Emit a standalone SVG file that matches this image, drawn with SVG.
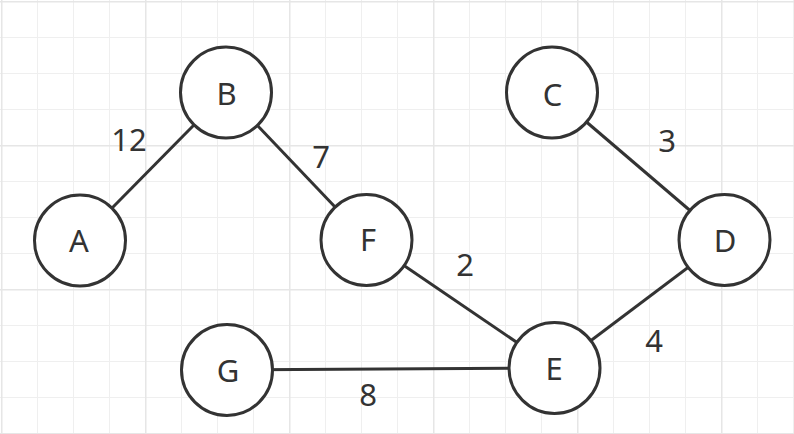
<svg xmlns="http://www.w3.org/2000/svg" width="794" height="434" viewBox="0 0 794 434">
<defs>
<pattern id="minor" x="1" y="1" width="36" height="36" patternUnits="userSpaceOnUse">
<path d="M0.5 0V36M0 0.5H36" fill="none" stroke="#efefef" stroke-width="1"/>
</pattern>
<pattern id="major" x="1" y="1" width="144" height="144" patternUnits="userSpaceOnUse">
<path d="M0.75 0V144M0 0.75H144" fill="none" stroke="#e6e6e6" stroke-width="1.5"/>
</pattern>
</defs>
<style>
.node circle{fill:#ffffff;stroke:#333333;stroke-width:3}
.node text,.label{font-family:"Noto Sans","Open Sans","DejaVu Sans",sans-serif;font-size:31px;fill:#333333;text-anchor:middle}
.edges line{stroke:#333333;stroke-width:3}
</style>
<rect width="794" height="434" fill="#ffffff"/>
<rect width="794" height="434" fill="url(#minor)"/>
<rect width="794" height="434" fill="url(#major)"/>
<g id="edges" class="edges">
<line x1="80" y1="240.5" x2="226" y2="92.5"/>
<line x1="226" y1="92.5" x2="366.5" y2="240"/>
<line x1="552" y1="92.5" x2="724.5" y2="240"/>
<line x1="366.5" y1="240" x2="554.5" y2="368"/>
<line x1="724.5" y1="240" x2="554.5" y2="368"/>
<line x1="227" y1="370" x2="554.5" y2="368"/>
</g>
<g id="edge-labels">
<text class="label" x="129" y="151">12</text>
<text class="label" x="321" y="168">7</text>
<text class="label" x="667" y="151.5">3</text>
<text class="label" x="465" y="276">2</text>
<text class="label" x="654" y="351.5">4</text>
<text class="label" x="368" y="406">8</text>
</g>
<g id="node-A" class="node"><circle cx="80" cy="240.5" r="45.5"/><text x="79" y="251.5">A</text></g>
<g id="node-B" class="node"><circle cx="226" cy="92.5" r="45.5"/><text x="226.5" y="105">B</text></g>
<g id="node-C" class="node"><circle cx="552" cy="92.5" r="45.5"/><text x="552.5" y="105.5">C</text></g>
<g id="node-D" class="node"><circle cx="724.5" cy="240" r="45.5"/><text x="725" y="251.5">D</text></g>
<g id="node-E" class="node"><circle cx="554.5" cy="368" r="45.5"/><text x="554" y="379.5">E</text></g>
<g id="node-F" class="node"><circle cx="366.5" cy="240" r="45.5"/><text x="368" y="251">F</text></g>
<g id="node-G" class="node"><circle cx="227" cy="370" r="45.5"/><text x="228" y="381.5">G</text></g>
</svg>
